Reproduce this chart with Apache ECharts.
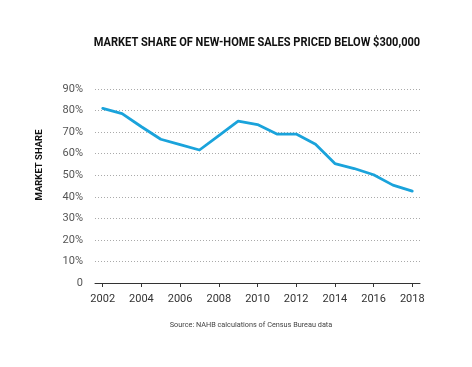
<!DOCTYPE html>
<html>
<head>
<meta charset="utf-8">
<script src="https://cdn.jsdelivr.net/npm/echarts@6/dist/echarts.min.js"></script>
<style>
html,body{margin:0;padding:0;background:#fff;}
#c{width:472px;height:367px;}
</style>
</head>
<body>
<div id="c"></div>
<script>
var years = [2002,2003,2004,2005,2006,2007,2008,2009,2010,2011,2012,2013,2014,2015,2016,2017,2018];
var share = [81,78.6,72.5,66.7,64.2,61.7,68.4,75.1,73.5,69.1,69.1,64.4,55.4,53.1,50.2,45.4,42.6];
var xTicks = [2002,2004,2006,2008,2010,2012,2014,2016,2018];
var yTicks = [0,10,20,30,40,50,60,70,80,90];

var chart = echarts.init(document.getElementById('c'), null, {renderer:'canvas'});
chart.setOption({
  animation:false,
  backgroundColor:'#fff',
  graphic:[{
    type:'text', x:257, y:43, scaleX:0.85, originX:0, originY:0,
    style:{text:'MARKET SHARE OF NEW-HOME SALES PRICED BELOW $300,000',
      font:'bold 13px Roboto', fill:'#111', align:'center', verticalAlign:'middle'}
  },{
    type:'text', x:40, y:165, rotation:Math.PI/2,
    style:{text:'MARKET SHARE', font:'bold 9.5px Roboto', fill:'#111', align:'center', verticalAlign:'middle'}
  },{
    type:'text', x:251, y:325,
    style:{text:'Source: NAHB calculations of Census Bureau data', font:'7.3px Roboto', fill:'#444', align:'center', verticalAlign:'middle'}
  }],
  grid:{left:95,right:52,top:89,bottom:84,containLabel:false,outerBoundsMode:'none'},
  xAxis:{
    type:'value', min:2001.6, max:2018.4,
    axisLine:{show:true,lineStyle:{color:'#333',width:1}},
    axisTick:{show:true,length:4,customValues:xTicks,lineStyle:{color:'#333'}},
    axisLabel:{customValues:xTicks,margin:11,fontFamily:'Roboto',fontSize:11,color:'#333',formatter:function(v){return String(v);}},
    splitLine:{show:false}
  },
  yAxis:{
    type:'value', min:0, max:90, interval:10,
    axisLine:{show:false}, axisTick:{show:false},
    axisLabel:{margin:12,fontFamily:'Roboto',fontSize:11,color:'#555',formatter:function(v){return v===0?'0':v+'%';}},
    splitLine:{show:true,lineStyle:{color:'#aaa',type:[1,2],width:1}}
  },
  series:[{
    type:'line',
    data:years.map(function(y,i){return [y,share[i]];}),
    symbol:'none',
    lineStyle:{color:'#1aa3db',width:2.8,cap:'round',join:'round'}
  }]
});
</script>
</body>
</html>
